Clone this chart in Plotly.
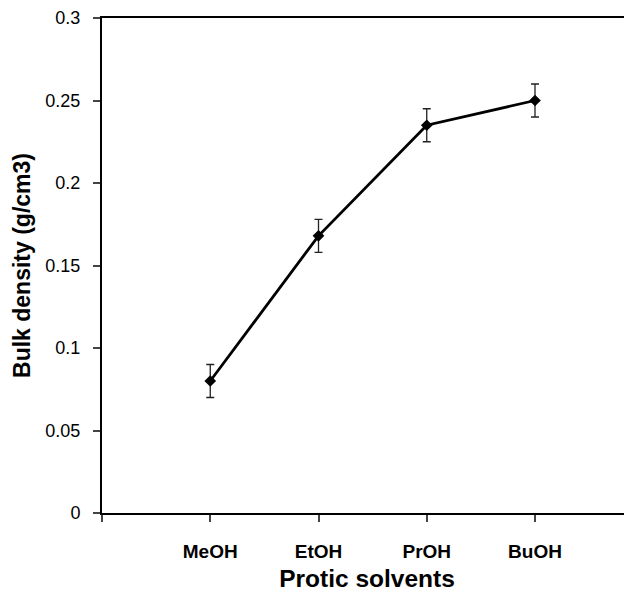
import plotly.graph_objects as go

categories = ["MeOH", "EtOH", "PrOH", "BuOH"]
density = [0.080, 0.168, 0.235, 0.250]
error = [0.010, 0.010, 0.010, 0.010]
y_ticks = [0, 0.05, 0.1, 0.15, 0.2, 0.25, 0.3]

x_pos = [i + 1 for i in range(len(categories))]

fig = go.Figure()
fig.add_trace(go.Scatter(
    x=x_pos, y=density,
    mode="lines+markers",
    line=dict(color="black", width=2.8),
    marker=dict(symbol="diamond", size=9, color="black"),
    error_y=dict(type="data", array=error, visible=True, color="#222222", thickness=1.3, width=4),
    showlegend=False,
    cliponaxis=False,
))

FONT = "Liberation Sans, Arial, sans-serif"

fig.update_layout(
    width=624, height=584,
    margin=dict(l=94, r=0, t=10, b=79),
    paper_bgcolor="white", plot_bgcolor="white",
    font=dict(family=FONT, color="black"),
    xaxis=dict(
        range=[0, 530 / 108.25],
        tickvals=[0] + x_pos, ticktext=[""] + categories,
        ticks="outside", ticklen=7, tickwidth=1.5, tickcolor="#444444",
        showline=True, linecolor="black", linewidth=2, mirror=True,
        showgrid=False, zeroline=False,
        tickfont=dict(size=19, family=FONT, weight="bold"),
        ticklabelstandoff=13,
        title=dict(text="<b>Protic solvents</b>", font=dict(size=24.5), standoff=14),
    ),
    yaxis=dict(
        range=[0, 0.3],
        tickvals=y_ticks,
        ticks="outside", ticklen=7, tickwidth=1.5, tickcolor="#444444",
        showline=True, linecolor="black", linewidth=2,
        showgrid=False, zeroline=False,
        tickfont=dict(size=18),
        ticklabelstandoff=9,
        title=dict(text="<b>Bulk density (g/cm3)</b>", font=dict(size=23), standoff=8),
    ),
)

fig.write_html("out.html")
